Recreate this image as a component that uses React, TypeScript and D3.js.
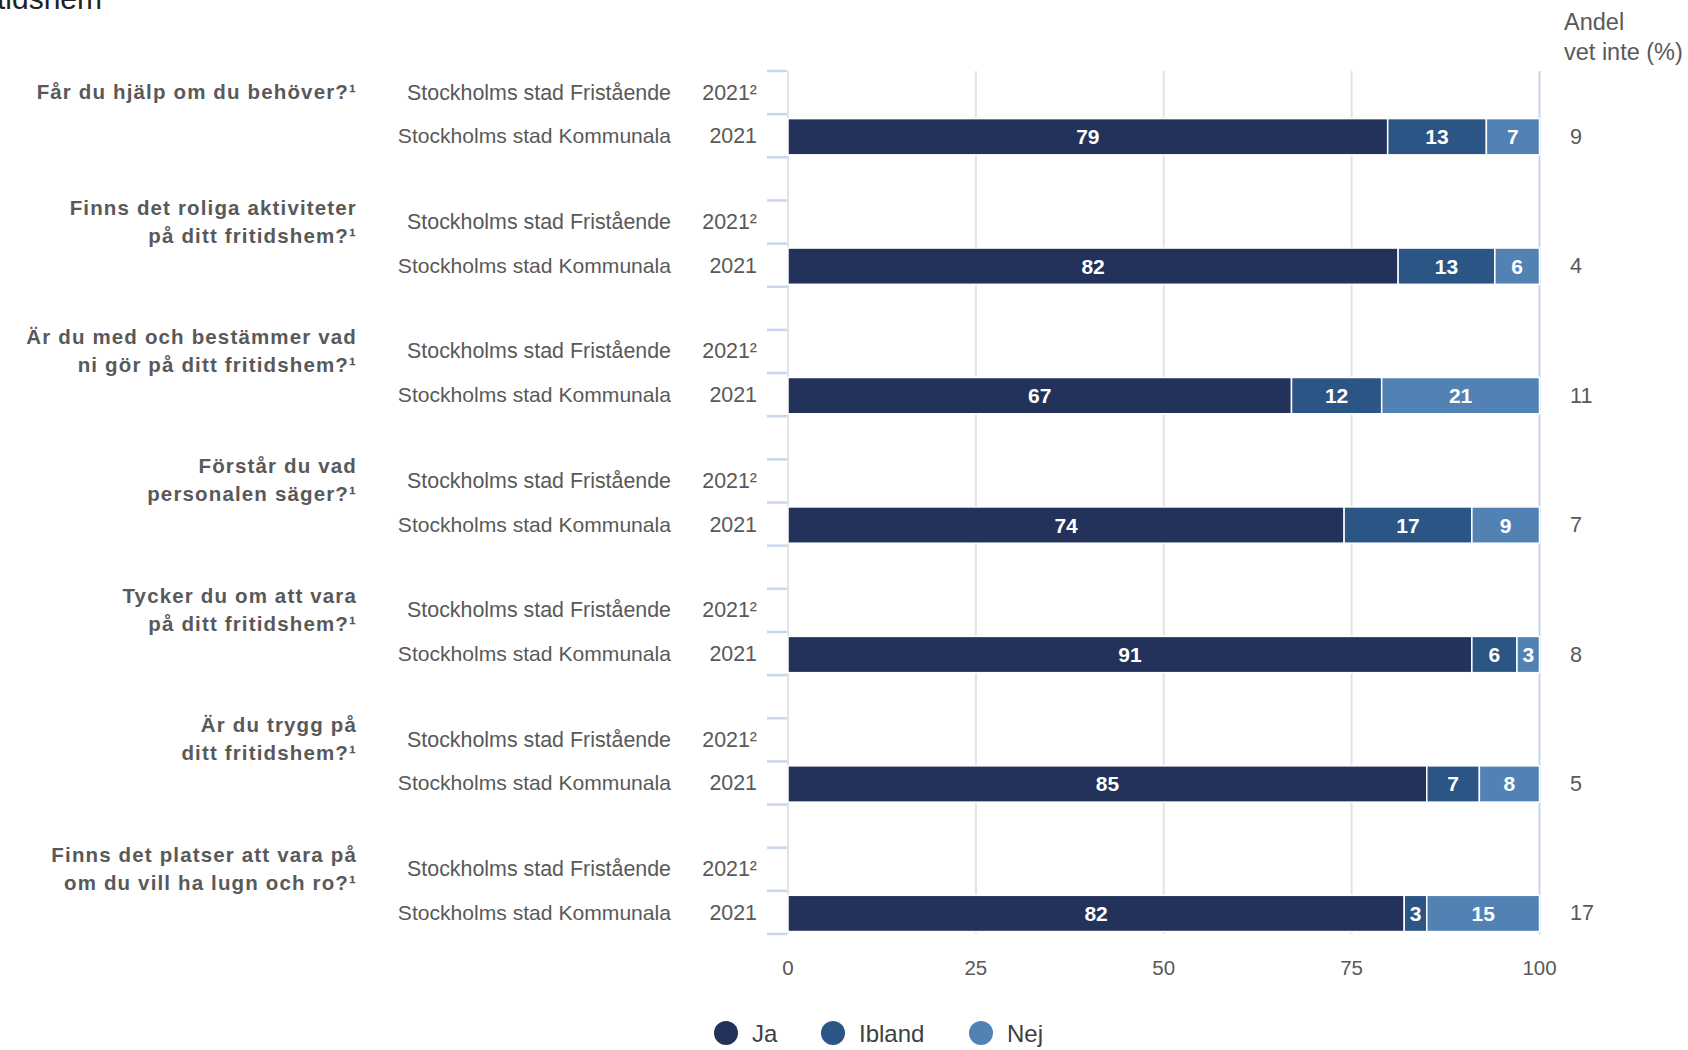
import React from "react";
import * as d3 from "d3";

const questions: string[][] = [
  ["Får du hjälp om du behöver?¹"],
  ["Finns det roliga aktiviteter", "på ditt fritidshem?¹"],
  ["Är du med och bestämmer vad", "ni gör på ditt fritidshem?¹"],
  ["Förstår du vad", "personalen säger?¹"],
  ["Tycker du om att vara", "på ditt fritidshem?¹"],
  ["Är du trygg på", "ditt fritidshem?¹"],
  ["Finns det platser att vara på", "om du vill ha lugn och ro?¹"],
];
const units = ["Stockholms stad Fristående", "Stockholms stad Kommunala"];
const years = ["2021²", "2021"];
const seriesKeys = ["Ja", "Ibland", "Nej"];
const colors = ["#22325a", "#2b5585", "#5282b4"];
const ja = [79, 82, 67, 74, 91, 85, 82];
const ibland = [13, 13, 12, 17, 6, 7, 3];
const nej = [7, 6, 21, 9, 3, 8, 15];
const vetInte = [9, 4, 11, 7, 8, 5, 17];
const xTicks = [0, 25, 50, 75, 100];

const W = 1688;
const H = 1050;
const GREY = "#595959";
const FONT = "'Liberation Sans', Arial, sans-serif";

export default function App() {
  const slots: string[] = [];
  questions.forEach((_, i) => {
    slots.push(`g${i}-F`, `g${i}-K`);
    if (i < questions.length - 1) slots.push(`g${i}-s`);
  });
  const y = d3.scaleBand<string>().domain(slots).range([71, 934]).paddingInner(0).paddingOuter(0);
  const x = d3.scaleLinear().domain([0, 1]).range([788, 1539.5]);
  const xPct = d3.scaleLinear().domain([0, 100]).range([788, 1539.5]);
  const bw = y.bandwidth();
  const barH = bw * 0.84;

  const rows = questions.map((_, i) => ({ key: `g${i}-K`, Ja: ja[i], Ibland: ibland[i], Nej: nej[i] }));
  const stack = d3.stack<any>().keys(seriesKeys).offset(d3.stackOffsetExpand);
  const stacked = stack(rows);

  const boundaries = d3.range(slots.length + 1).map((k) => 71 + k * bw);

  return (
    <svg width={W} height={H} style={{ position: "absolute", left: 0, top: 0, background: "#fff" }} fontFamily={FONT}>
      <rect width={W} height={H} fill="#fff" />
      <text x={102} y={9} fontSize={30} fill="#222" textAnchor="end">Fritidshem</text>

      {xTicks.slice(0, 4).map((t) => (
        <line key={t} x1={xPct(t)} x2={xPct(t)} y1={71} y2={934} stroke="#e3e3e3" strokeWidth={2} />
      ))}
      <line x1={xPct(100)} x2={xPct(100)} y1={71} y2={934} stroke="#c9d6ec" strokeWidth={2} />

      {boundaries.map((b, k) => (
        <line key={k} x1={767} x2={787} y1={b} y2={b} stroke="#c9d6ee" strokeWidth={2.5} />
      ))}

      {stacked.map((s, si) =>
        s.map((d, i) => {
          const x0 = x(d[0]);
          const x1 = x(d[1]);
          const yy = (y(rows[i].key) as number) + (bw - barH) / 2 + 1;
          const val = (rows[i] as any)[seriesKeys[si]];
          return (
            <g key={`${si}-${i}`}>
              <rect x={x0} y={yy} width={x1 - x0} height={barH} fill={colors[si]} stroke="#fff" strokeWidth={1.5} />
              <text x={(x0 + x1) / 2} y={yy + barH / 2 + 7.5} textAnchor="middle" fontSize={21} fontWeight="bold" fill="#fff">
                {val}
              </text>
            </g>
          );
        })
      )}

      {questions.map((q, i) => {
        const yF = (y(`g${i}-F`) as number) + bw / 2;
        const yK = (y(`g${i}-K`) as number) + bw / 2;
        const lh = 28;
        const startY = yF - ((q.length - 1) * lh) / 2;
        return (
          <g key={i}>
            {q.map((line, li) => (
              <text key={li} x={357} y={startY + li * lh + 6.5} textAnchor="end" fontSize={20.5} fontWeight="bold" fill={GREY} letterSpacing={1.15}>
                {line}
              </text>
            ))}
            <text x={671} y={yF + 7} textAnchor="end" fontSize={21.4} fill={GREY}>{units[0]}</text>
            <text x={671} y={yK + 7.5} textAnchor="end" fontSize={21.1} fill={GREY}>{units[1]}</text>
            <text x={757} y={yF + 7} textAnchor="end" fontSize={21.4} fill={GREY}>{years[0]}</text>
            <text x={757} y={yK + 7.5} textAnchor="end" fontSize={21.4} fill={GREY}>{years[1]}</text>
            <text x={1570} y={yK + 8} textAnchor="start" fontSize={21.6} fill={GREY}>{vetInte[i]}</text>
          </g>
        );
      })}

      <text x={1564} y={30} fontSize={23.5} fill={GREY}>Andel</text>
      <text x={1564} y={60} fontSize={23.5} fill={GREY}>vet inte (%)</text>

      {xTicks.map((t) => (
        <text key={t} x={xPct(t)} y={975} textAnchor="middle" fontSize={20.5} fill={GREY}>{t}</text>
      ))}

      {seriesKeys.map((k, i) => {
        const cx = [726, 833, 981][i];
        return (
          <g key={k}>
            <circle cx={cx} cy={1033} r={12} fill={colors[i]} />
            <text x={cx + 26} y={1042} fontSize={24} fill="#404040">{k}</text>
          </g>
        );
      })}
    </svg>
  );
}
